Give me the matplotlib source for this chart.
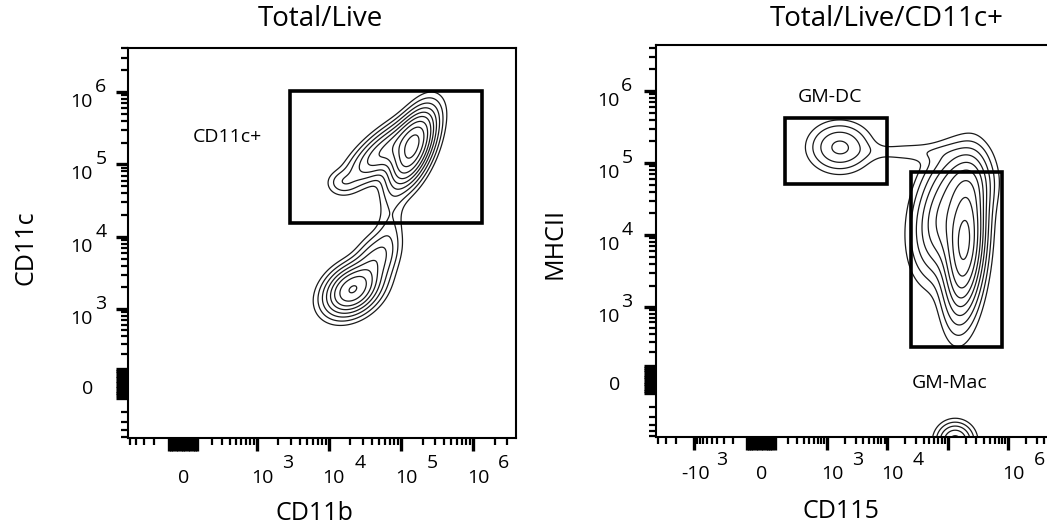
import numpy as np
import matplotlib
matplotlib.use("Agg")
import matplotlib.pyplot as plt
from matplotlib.transforms import blended_transform_factory, offset_copy

plt.rcParams['font.family'] = ['Open Sans', 'DejaVu Sans']

LN10 = np.log(10)


def T(v, w):
    # biexponential-like display (asinh), in decades
    return np.arcsinh(np.asarray(v, float) / w) / LN10


# linear width of each display axis
left_w = (190, 190)
right_w = (160, 200)

# ---- populations: centre (real units), spread (decades), correlation, peak height
left_cx = [1.45e5, 6.0e4, 1.52e4, 7.1e4, 2.1e4, 4.4e4]
left_cy = [1.65e5, 1.58e5, 5.7e4, 1.45e4, 1.84e3, 4.9e3]
left_sx = [0.18, 0.30, 0.13, 0.12, 0.22, 0.18]
left_sy = [0.30, 0.26, 0.10, 0.40, 0.20, 0.22]
left_rho = [0.55, 0.75, 0.0, 0.3, 0.3, 0.4]
left_h = [0.55, 0.22, 0.04, 0.035, 0.40, 0.12]

right_cx = [1.63e3, 1.94e5, 8.05e4, 1.94e5, 2.37e4, 1.33e5]
right_cy = [1.66e5, 7.2e3, 1.62e4, 5.8e4, 1.43e5, -700]
right_sx = [0.30, 0.19, 0.28, 0.28, 0.50, 0.18]
right_sy = [0.20, 0.55, 0.45, 0.28, 0.09, 0.15]
right_rho = [0.0, 0.25, 0.2, 0.0, 0.0, 0.0]
right_h = [0.12, 0.52, 0.22, 0.12, 0.03, 0.18]

contour_levels = [0.02, 0.04, 0.07, 0.11, 0.16, 0.22, 0.30, 0.40, 0.52, 0.66]

# ---- gates (real units)
cd11c_gate = dict(x=[2.9e3, 1.33e6], y=[1.56e4, 1.04e6])
gmdc_gate = dict(x=[170, 9.9e3], y=[5.13e4, 4.22e5])
gmmac_gate = dict(x=[2.47e4, 7.94e5], y=[247, 7.53e4])

# ---- tick values
decades = [1e3, 1e4, 1e5, 1e6]
zero_block = np.arange(-90, 91, 15)
minor_pos = [m * 10.0 ** k for k in range(2, 7) for m in range(2, 10)]
minor_neg = [-v for v in minor_pos]


def density(cx, cy, sx, sy, rho, h, w, xlim, ylim):
    gx = np.linspace(xlim[0], xlim[1], 500)
    gy = np.linspace(ylim[0], ylim[1], 500)
    X, Y = np.meshgrid(gx, gy)
    Z = np.zeros_like(X)
    for i in range(len(cx)):
        dx = (X - T(cx[i], w[0])) / sx[i]
        dy = (Y - T(cy[i], w[1])) / sy[i]
        r = rho[i]
        Z += h[i] * np.exp(-(dx ** 2 - 2 * r * dx * dy + dy ** 2) / (2 * (1 - r ** 2)))
    return X, Y, Z


def gate(ax, g, w):
    x0, x1 = T(g['x'], w[0])
    y0, y1 = T(g['y'], w[1])
    ax.add_patch(plt.Rectangle((x0, y0), x1 - x0, y1 - y0, fill=False,
                               lw=2.6, ec='black', zorder=5))


def setup_ticks(ax, w, xlim, ylim, xmajor, ymajor):
    for axis, ww, lim, major in ((ax.xaxis, w[0], xlim, xmajor),
                                 (ax.yaxis, w[1], ylim, ymajor)):
        mj = T(np.concatenate([major, zero_block]), ww)
        mn = T(minor_pos + minor_neg, ww)
        mn = mn[(mn > lim[0]) & (mn < lim[1])]
        axis.set_ticks(mj)
        axis.set_ticks(mn, minor=True)
        axis.set_ticklabels([])
    ax.tick_params(which='major', direction='out', length=9, width=2.4,
                   top=False, right=False)
    ax.tick_params(which='minor', direction='out', length=5, width=1.6,
                   top=False, right=False)
    ax.set_xlim(xlim)
    ax.set_ylim(ylim)


def ylabels(ax, w, vals, exps, dx10, dxe):
    tr = blended_transform_factory(ax.transAxes, ax.transData)
    for v, e in zip(vals, exps):
        y = T(v, w[1])
        if e is None:
            ax.text(0, y, '0', transform=offset_copy(tr, fig=fig, x=dx10 + 7, y=-6, units='dots'),
                    ha='center', va='center', fontsize=14)
        else:
            ax.text(0, y, '10', transform=offset_copy(tr, fig=fig, x=dx10, y=-10, units='dots'),
                    ha='center', va='center', fontsize=14)
            ax.text(0, y, e, transform=offset_copy(tr, fig=fig, x=dxe, y=5, units='dots'),
                    ha='center', va='center', fontsize=14)


def xlabels(ax, w, vals, texts, exps, dy10, dye):
    tr = blended_transform_factory(ax.transData, ax.transAxes)
    for v, t, e in zip(vals, texts, exps):
        x = T(v, w[0])
        if e is None:
            ax.text(x, 0, t, transform=offset_copy(tr, fig=fig, x=1, y=dy10, units='dots'),
                    ha='center', va='center', fontsize=14)
        else:
            off = 1 if t.startswith('-') else 5
            ax.text(x, 0, t, transform=offset_copy(tr, fig=fig, x=off, y=dy10, units='dots'),
                    ha='center', va='center', fontsize=14)
            ax.text(x, 0, e, transform=offset_copy(tr, fig=fig, x=off + 26, y=dye, units='dots'),
                    ha='center', va='center', fontsize=14)


fig = plt.figure(figsize=(10.47, 5.31), dpi=100)
W, H = 1047.0, 531.0

# ---------------- left panel
axl = fig.add_axes([128 / W, 1 - 438 / H, 388 / W, 390 / H])
lxlim = (-0.763, 4.619)
lylim = (-0.756, 4.631)
X, Y, Z = density(left_cx, left_cy, left_sx, left_sy, left_rho, left_h, left_w, lxlim, lylim)
axl.contour(X, Y, Z, levels=contour_levels, colors='#1a1a1a', linewidths=0.9)
gate(axl, cd11c_gate, left_w)
setup_ticks(axl, left_w, lxlim, lylim, decades, decades)
axl.text(T(363, left_w[0]), T(2.4e5, left_w[1]), 'CD11c+', ha='center', va='center', fontsize=14)
ylabels(axl, left_w, [0] + decades, [None, '3', '4', '5', '6'], -47, -27)
xlabels(axl, left_w, [0] + decades, ['0', '10', '10', '10', '10'], [None, '3', '4', '5', '6'], -40, -25)
for s in axl.spines.values():
    s.set_linewidth(1.5)

# ---------------- right panel
axr = fig.add_axes([656 / W, 1 - 437 / H, 470 / W, 392 / H])
rxlim = (-1.732, -1.732 + 470 / 60.4)
rylim = (-0.799, 4.638)
X, Y, Z = density(right_cx, right_cy, right_sx, right_sy, right_rho, right_h, right_w, rxlim, rylim)
axr.contour(X, Y, Z, levels=contour_levels, colors='#1a1a1a', linewidths=0.9)
gate(axr, gmdc_gate, right_w)
gate(axr, gmmac_gate, right_w)
setup_ticks(axr, right_w, rxlim, rylim, [-1e3] + decades, decades)
axr.text(T(1115, right_w[0]), T(8.3e5, right_w[1]), 'GM-DC', ha='center', va='center', fontsize=14)
axr.text(T(1.09e5, right_w[0]), T(-23, right_w[1]), 'GM-Mac', ha='center', va='center', fontsize=14)
ylabels(axr, right_w, [0] + decades, [None, '3', '4', '5', '6'], -48, -29)
xlabels(axr, right_w, [-1e3, 0, 1e3, 1e4, 1e6], ['-10', '0', '10', '10', '10'],
        ['3', None, '3', '4', '6'], -37, -23)
for s in axr.spines.values():
    s.set_linewidth(1.5)

# ---------------- titles and axis names
fig.text(320 / W, 1 - 19 / H, 'Total/Live', ha='center', va='center', fontsize=20)
fig.text(887 / W, 1 - 19 / H, 'Total/Live/CD11c+', ha='center', va='center', fontsize=20)
fig.text(26 / W, 1 - 248 / H, 'CD11c', rotation=90, ha='center', va='center', fontsize=18)
fig.text(314 / W, 1 - 513 / H, 'CD11b', ha='center', va='center', fontsize=18)
fig.text(555 / W, 1 - 243 / H, 'MHCII', rotation=90, ha='center', va='center', fontsize=18)
fig.text(841 / W, 1 - 511 / H, 'CD115', ha='center', va='center', fontsize=18)

fig.savefig('out.png', dpi=100)
